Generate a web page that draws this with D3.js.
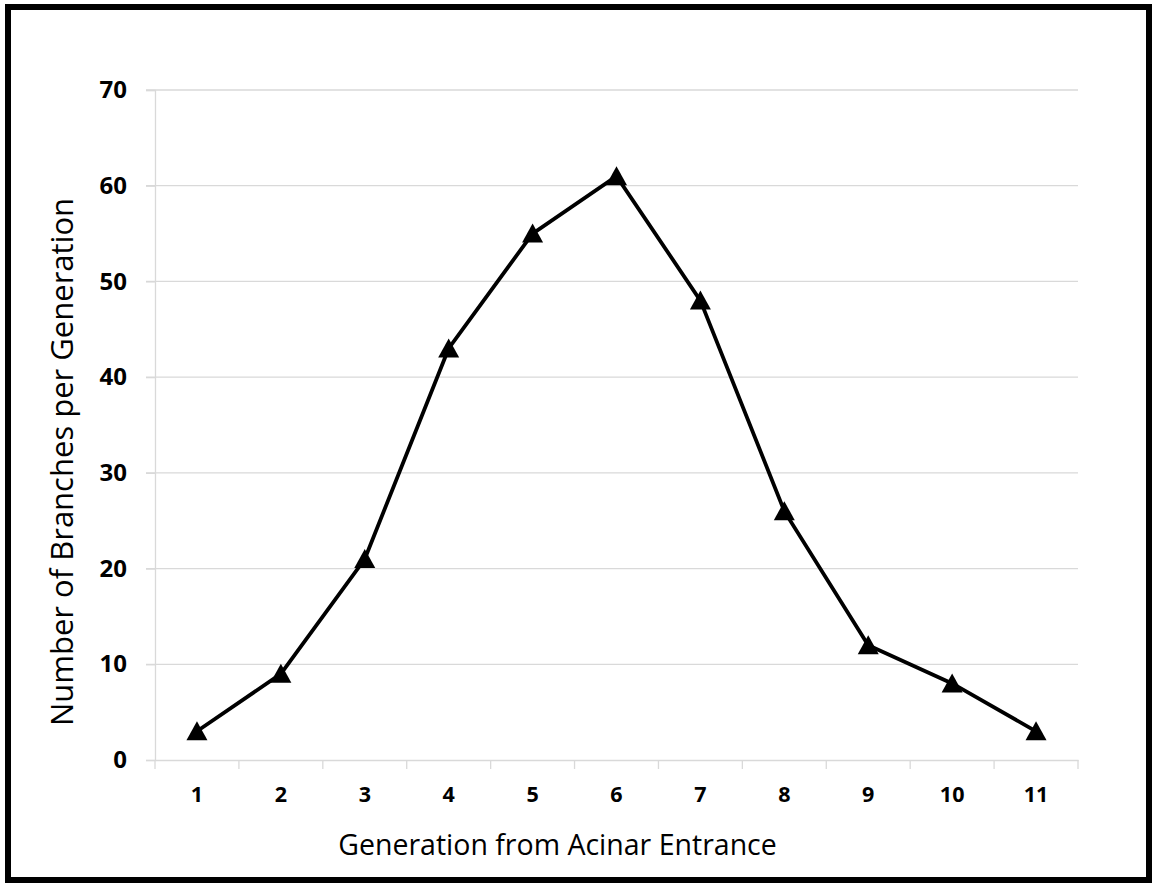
<!DOCTYPE html>
<html><head><meta charset="utf-8">
<script src="https://cdn.jsdelivr.net/npm/d3@7/dist/d3.min.js"></script>
<style>body{margin:0;background:#fff}svg{display:block}</style>
</head><body><svg id="c" width="1154" height="884"></svg>
<script>
const generations = ["1","2","3","4","5","6","7","8","9","10","11"];
const branches = [3, 9, 21, 43, 55, 61, 48, 26, 12, 8, 3];
const yTicks = [0,10,20,30,40,50,60,70];
const xTitle = "Generation from Acinar Entrance";
const yTitle = "Number of Branches per Generation";

const svg = d3.select("#c");
const font = "'Open Sans', sans-serif";
svg.append("rect").attr("x",8).attr("y",7).attr("width",1141).attr("height",873)
  .attr("fill","#fff").attr("stroke","#000").attr("stroke-width",6);

const x = d3.scaleBand().domain(generations).range([155,1078]);
const y = d3.scaleLinear().domain([0,70]).range([760,90]);

// gridlines
svg.append("g").selectAll("line").data(yTicks.filter(d=>d>0)).join("line")
  .attr("x1",146).attr("x2",1078).attr("y1",d=>y(d)).attr("y2",d=>y(d))
  .attr("stroke","#d9d9d9").attr("stroke-width",1.3);

// y axis
const yAx = svg.append("g").attr("transform","translate(155,0)")
  .call(d3.axisLeft(y).tickValues(yTicks).tickSize(9).tickPadding(19));
yAx.select(".domain").attr("stroke","#d9d9d9").attr("stroke-width",1.3);
yAx.selectAll(".tick line").attr("stroke","#d9d9d9").attr("stroke-width",1.3);
yAx.selectAll("text").attr("font-family",font).attr("font-weight","bold")
  .attr("font-size",24).attr("fill","#000");

// x axis
const xAx = svg.append("g").attr("transform","translate(0,760)")
  .call(d3.axisBottom(x).tickSize(0).tickPadding(27));
xAx.select(".domain").attr("stroke","#d9d9d9").attr("stroke-width",1.3);
xAx.selectAll("text").attr("font-family",font).attr("font-weight","bold")
  .attr("font-size",21.5).attr("fill","#000");
// boundary tick marks
const bounds = generations.map(g=>x(g)).concat([x(generations[generations.length-1])+x.bandwidth()]);
svg.append("g").selectAll("line").data(bounds).join("line")
  .attr("x1",d=>d).attr("x2",d=>d).attr("y1",760).attr("y2",769)
  .attr("stroke","#d9d9d9").attr("stroke-width",1.3);

// line
const cx = g => x(g) + x.bandwidth()/2;
svg.append("path").datum(branches)
  .attr("d", d3.line().x((d,i)=>cx(generations[i])).y(d=>y(d)))
  .attr("fill","none").attr("stroke","#000").attr("stroke-width",3.8);

// markers
svg.append("g").selectAll("path").data(branches).join("path")
  .attr("transform",(d,i)=>`translate(${cx(generations[i])},${y(d)})`)
  .attr("d","M0,-10 L10.5,9 L-10.5,9 Z").attr("fill","#000");

// titles
svg.append("text").attr("x",557.5).attr("y",855).attr("text-anchor","middle")
  .attr("font-family",font).attr("font-size",28.5).attr("fill","#000").text(xTitle);
svg.append("text").attr("transform","translate(73,462) rotate(-90)").attr("text-anchor","middle")
  .attr("font-family",font).attr("font-size",31).attr("fill","#000").text(yTitle);
</script></body></html>
